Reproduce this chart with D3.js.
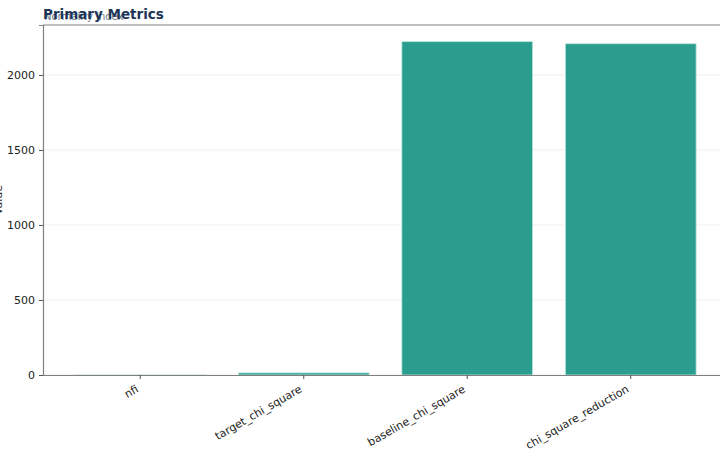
<!DOCTYPE html>
<html>
<head>
<meta charset="utf-8">
<script src="https://cdn.jsdelivr.net/npm/d3@7"></script>
<style>
  body { margin: 0; background: #fff; }
  text { font-family: "DejaVu Sans", sans-serif; }
</style>
</head>
<body>
<script>
var categories = ['nfi', 'target_chi_square', 'baseline_chi_square', 'chi_square_reduction'];
var values = [0.9, 14, 2222, 2208];
var yTicks = [0, 500, 1000, 1500, 2000];

var W = 720, H = 460;
var mLeft = 43, mRight = 728, mTop = 25, mBottom = 375;

var svg = d3.select('body').append('svg')
    .attr('width', W)
    .attr('height', H);

var x = d3.scaleBand()
    .domain(categories)
    .range([mLeft, mRight])
    .paddingInner(0.2)
    .paddingOuter(0.195);

var y = d3.scaleLinear()
    .domain([0, 2333])
    .range([mBottom, mTop]);

// grid
svg.append('g').selectAll('line')
    .data(yTicks)
    .enter().append('line')
    .attr('x1', mLeft)
    .attr('x2', mRight)
    .attr('y1', function (d) { return y(d); })
    .attr('y2', function (d) { return y(d); })
    .attr('stroke', '#ebebeb')
    .attr('stroke-width', 0.8);

// bars
svg.append('g').selectAll('rect')
    .data(values)
    .enter().append('rect')
    .attr('x', function (d, i) { return x(categories[i]); })
    .attr('y', function (d) { return y(d); })
    .attr('width', x.bandwidth())
    .attr('height', function (d) { return mBottom - y(d); })
    .attr('fill', '#2a9d8f')
    .attr('stroke', '#bfe6e0')
    .attr('stroke-width', function (d) { return mBottom - y(d) > 1 ? 0.8 : 0; });

// top spine
svg.append('line')
    .attr('x1', mLeft).attr('x2', mRight)
    .attr('y1', mTop).attr('y2', mTop)
    .attr('stroke', '#808080').attr('stroke-width', 1.2);

// y axis
var yAxis = svg.append('g')
    .attr('transform', 'translate(' + mLeft + ',0)')
    .call(d3.axisLeft(y).tickValues(yTicks).tickSize(4).tickPadding(4).tickFormat(d3.format('d')));
yAxis.select('.domain').attr('stroke', '#808080').attr('stroke-width', 1.2);
yAxis.selectAll('.tick line').attr('stroke', '#555');
yAxis.selectAll('.tick text').attr('font-size', 11).attr('fill', '#222')
    .style('font-family', '"DejaVu Sans", sans-serif');

// x axis
var xAxis = svg.append('g')
    .attr('transform', 'translate(0,' + mBottom + ')')
    .call(d3.axisBottom(x).tickSize(4).tickPadding(4).tickSizeOuter(0));
xAxis.select('.domain').attr('stroke', '#808080').attr('stroke-width', 1.2);
xAxis.selectAll('.tick line').attr('stroke', '#555');
xAxis.selectAll('.tick text')
    .attr('font-size', 11).attr('fill', '#222')
    .style('font-family', '"DejaVu Sans", sans-serif')
    .attr('text-anchor', 'end')
    .attr('dy', '0.35em')
    .attr('transform', 'translate(-7,6) rotate(-30)');

// y label
svg.append('text')
    .attr('transform', 'translate(2,200) rotate(-90)')
    .attr('text-anchor', 'middle')
    .attr('font-size', 11)
    .attr('fill', '#222')
    .text('Value');

// subtitle
svg.append('text')
    .attr('x', mLeft + 1)
    .attr('y', 20)
    .attr('font-size', 10)
    .attr('fill', '#6c7a89')
    .text('Normality Index');

// title
svg.append('text')
    .attr('x', mLeft)
    .attr('y', 19)
    .attr('font-size', 13.5)
    .attr('font-weight', 'bold')
    .attr('fill', '#1d3557')
    .text('Primary Metrics');
</script>
</body>
</html>
